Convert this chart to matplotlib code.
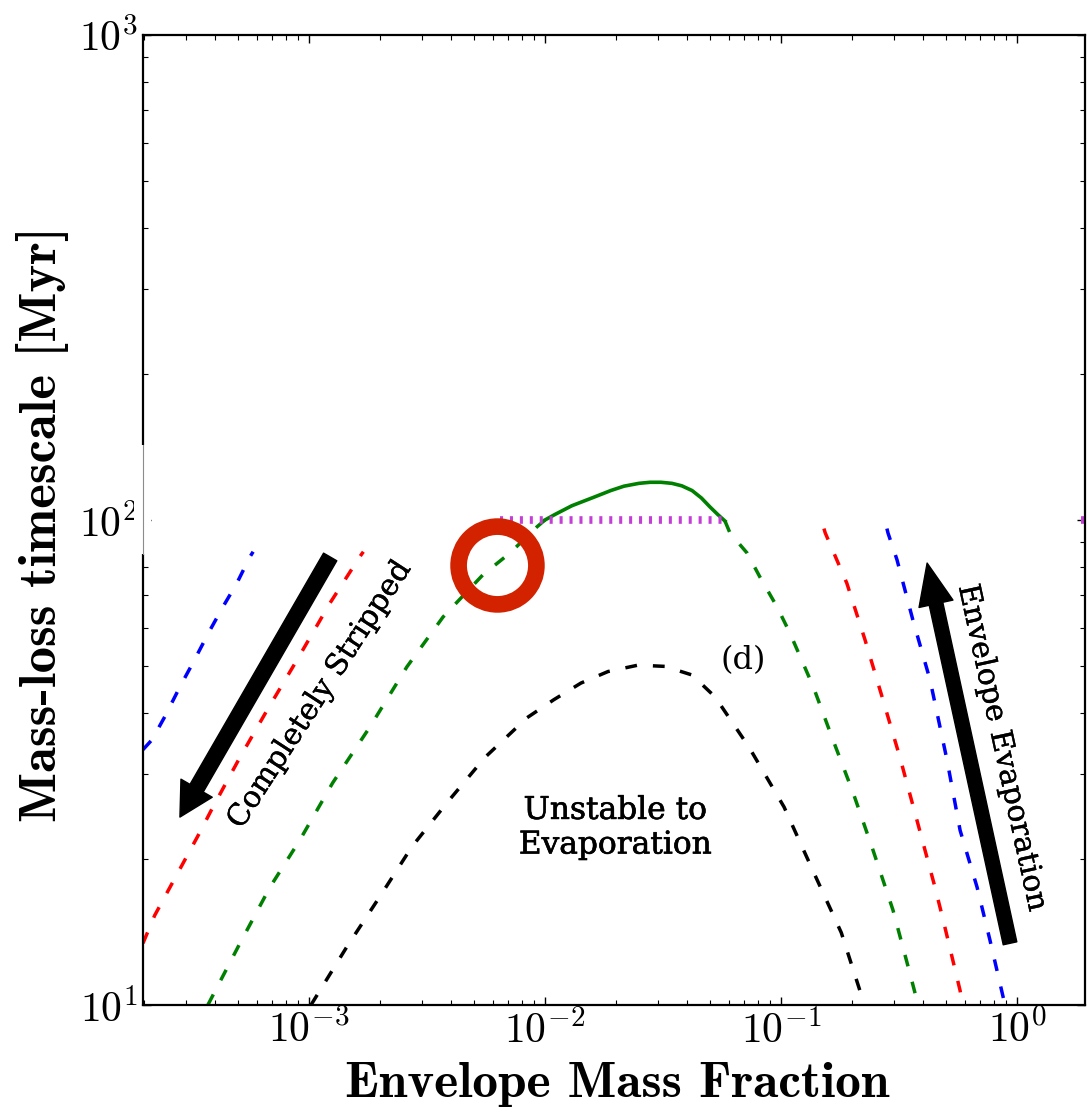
import matplotlib
matplotlib.use("Agg")
import matplotlib.pyplot as plt
import matplotlib.patheffects as pe
from matplotlib.transforms import blended_transform_factory
from matplotlib.patches import Rectangle

plt.rcParams['mathtext.fontset'] = 'cm'
plt.rcParams['font.family'] = 'serif'
plt.rcParams['font.serif'] = ['cmr10', 'DejaVu Serif']
plt.rcParams['axes.formatter.use_mathtext'] = True
plt.rcParams['axes.unicode_minus'] = False

# === 資料 ===
blue_left_x = [1.98e-4, 2.16e-4, 2.45e-4, 2.84e-4, 3.22e-4, 3.81e-4, 4.32e-4, 4.95e-4, 5.62e-4, 5.8e-4]
blue_left_y = [33.6, 35.2, 39.3, 45.3, 50.7, 59.3, 66.2, 74.1, 83.9, 86.0]

red_left_x = [1.98e-4, 2.22e-4, 3.45e-4, 3.92e-4, 5.10e-4, 6.64e-4, 8.89e-4, 1.23e-3, 1.64e-3, 1.70e-3]
red_left_y = [13.4, 15.3, 22.7, 25.6, 32.4, 40.5, 51.4, 67.5, 83.9, 86.0]

green_left_x = [3.73e-4, 5.10e-4, 6.84e-4, 9.16e-4, 1.26e-3, 1.81e-3, 2.60e-3, 3.70e-3,
                5.46e-3, 7.11e-3, 9.25e-3, 1.0e-2]
green_left_y = [10.0, 13.4, 17.5, 21.9, 28.7, 37.4, 49.8, 63.1, 77.1, 85.5, 96.8, 100.0]

green_solid_x = [1.0e-2, 1.1e-2, 1.3e-2, 1.61e-2, 1.9e-2, 2.16e-2, 2.5e-2, 2.79e-2, 3.1e-2,
                 3.45e-2, 3.8e-2, 4.2e-2, 4.6e-2, 5.0e-2, 5.4e-2, 5.79e-2]
green_solid_y = [100.0, 102.6, 107.0, 111.4, 115.0, 117.4, 119.0, 119.6, 119.6,
                 119.0, 117.6, 115.0, 111.0, 106.4, 102.6, 99.5]

green_right_x = [5.79e-2, 6.08e-2, 7.18e-2, 8.15e-2, 9.62e-2, 0.109, 0.137, 0.166, 0.202,
                 0.245, 0.298, 0.352, 0.381]
green_right_y = [99.5, 94.0, 85.5, 76.2, 66.2, 58.5, 45.3, 35.2, 27.4, 20.9, 15.7, 11.6, 10.0]

black_x = [1.02e-3, 1.45e-3, 2.04e-3, 2.73e-3, 3.84e-3, 5.57e-3, 8.39e-3, 1.09e-2, 1.42e-2,
           1.85e-2, 2.48e-2, 3.22e-2, 4.20e-2, 5.25e-2, 7.32e-2, 0.103, 0.138, 0.180, 0.216, 0.220]
black_y = [10.0, 13.2, 17.0, 21.2, 26.1, 32.4, 39.1, 42.6, 46.1, 48.7, 50.2, 49.9, 47.9,
           43.2, 34.0, 25.6, 18.7, 14.1, 10.7, 10.0]

red_right_x = [0.152, 0.154, 0.190, 0.227, 0.268, 0.319, 0.377, 0.449, 0.486, 0.574, 0.585]
red_right_y = [96.0, 94.0, 74.1, 56.6, 43.2, 32.4, 24.0, 17.5, 15.0, 10.7, 10.0]

blue_right_x = [0.281, 0.284, 0.310, 0.362, 0.428, 0.505, 0.574, 0.677, 0.768, 0.889]
blue_right_y = [96.0, 94.0, 82.8, 62.2, 46.8, 32.0, 22.9, 17.5, 13.6, 10.0]

limit_x = [6.44e-3, 5.79e-2]
limit_y = [100.0, 100.0]
limit_edge_x = [1.86, 1.94]

highlight = (6.26e-3, 80.7)

DASH = (3.4, 4.6)


def main():
    fig = plt.figure(figsize=(10.88, 11.15), dpi=100)
    ax = fig.add_axes([0.1314, 0.0987, 0.8658, 0.8699])
    ax.set_xscale('log')
    ax.set_yscale('log')
    ax.set_xlim(1.98e-4, 1.94)
    ax.set_ylim(10, 1000)

    for xs, ys, c in [(blue_left_x, blue_left_y, 'b'), (red_left_x, red_left_y, 'r'),
                      (green_left_x, green_left_y, 'g'), (black_x, black_y, 'k'),
                      (green_right_x, green_right_y, 'g'), (red_right_x, red_right_y, 'r'),
                      (blue_right_x, blue_right_y, 'b')]:
        ax.plot(xs, ys, color=c, lw=2.5, dashes=DASH, dash_capstyle='butt')

    ax.plot(green_solid_x, green_solid_y, color='g', lw=2.6)
    ax.plot(limit_x, limit_y, color='#c33fd6', lw=5.5, dashes=(0.4, 0.9), dash_capstyle='butt')
    ax.plot(limit_edge_x, limit_y, color='#c33fd6', lw=5.5, dashes=(0.4, 0.9), dash_capstyle='butt')

    # 紅圈
    ax.plot([highlight[0]], [highlight[1]], marker='o', ms=56, mfc='none',
            mec='#d22200', mew=12, zorder=10)

    # 箭頭
    ax.annotate('', xy=(2.84e-4, 24.4), xytext=(1.23e-3, 83.9),
                arrowprops=dict(facecolor='black', edgecolor='black', width=11,
                                headwidth=26, headlength=24, shrink=0))
    ax.annotate('', xy=(0.416, 81.5), xytext=(0.934, 13.4),
                arrowprops=dict(facecolor='black', edgecolor='black', width=10,
                                headwidth=25, headlength=30, shrink=0))

    thin = [pe.withStroke(linewidth=0.25, foreground='black')]
    ax.text(1.11e-3, 43.6, 'Completely Stripped', rotation=57, ha='center', va='center',
            fontname='DejaVu Serif', fontsize=21.5, path_effects=thin)
    ax.text(0.864, 33.9, 'Envelope Evaporation', rotation=-77.7, ha='center', va='center',
            fontname='DejaVu Serif', fontsize=21.5, path_effects=thin)
    ax.text(1.98e-2, 23.2, 'Unstable to\nEvaporation', ha='center', va='center',
            fontname='DejaVu Serif', fontsize=22.5, multialignment='center', linespacing=1.15,
            path_effects=[pe.withStroke(linewidth=0.45, foreground='black')])
    ax.text(6.9e-2, 51.4, '(d)', ha='center', va='center', fontname='DejaVu Serif', fontsize=23)

    ax.tick_params(which='both', direction='in', top=True, right=True, labelsize=30)
    ax.tick_params(which='major', length=6, width=1)
    ax.tick_params(which='minor', length=3.5, width=0.8)
    for s in ax.spines.values():
        s.set_linewidth(1.6)

    # 左軸被遮住的一段
    trans = blended_transform_factory(ax.transAxes, ax.transData)
    ax.add_patch(Rectangle((-0.009, 85), 0.018, 58, transform=trans, facecolor='white',
                           edgecolor='none', clip_on=False, zorder=5))
    ax.plot([0, 0], [85, 143], transform=trans, color='0.55', lw=0.8, clip_on=False, zorder=6)

    ax.set_xlabel('Envelope Mass Fraction', fontname='cmb10', fontsize=37)
    ax.set_ylabel('Mass-loss timescale [Myr]', fontname='cmb10', fontsize=38)
    ax.xaxis.set_label_coords(0.503, -0.0825)
    ax.xaxis.label.set_va('center')
    ax.yaxis.set_label_coords(-0.107, 0.496)
    ax.yaxis.label.set_va('center')

    fig.savefig('out.png', dpi=100)


if __name__ == "__main__":
    main()
